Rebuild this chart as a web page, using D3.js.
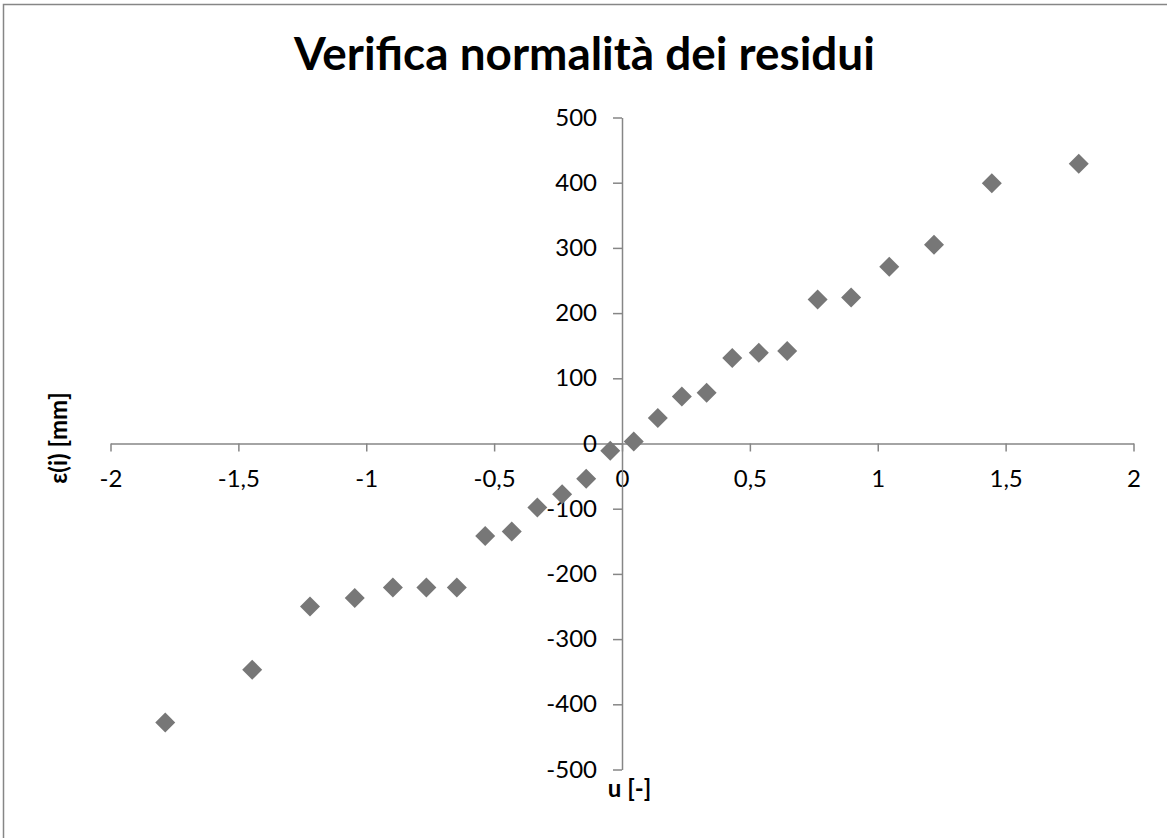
<!DOCTYPE html>
<html>
<head>
<meta charset="utf-8">
<script src="https://cdn.jsdelivr.net/npm/d3@7"></script>
<style>
  body { margin: 0; background: #fff; }
  .tick text { font-family: Lato, "Open Sans", sans-serif; font-size: 24px; fill: #000; }
  .axisTitle { font-family: Lato, "Open Sans", sans-serif; font-weight: bold; font-size: 24px; }
</style>
</head>
<body>
<div id="chart"></div>
<script>
// Normal quantiles (u) vs residuals (eps)
var uValues = [-1.786, -1.446, -1.22, -1.045, -0.896, -0.765, -0.646, -0.535, -0.431, -0.331, -0.234, -0.14, -0.046,
    0.046, 0.14, 0.234, 0.331, 0.431, 0.535, 0.646, 0.765, 0.896, 1.045, 1.22, 1.446, 1.786];
var epsValues = [-428, -347, -250, -237, -221, -221, -221, -142, -135, -98, -78, -54, -11,
    3, 39, 72, 78, 131, 139, 142, 221, 224, 271, 305, 399, 429];
var xTicks = [-2, -1.5, -1, -0.5, 0, 0.5, 1, 1.5, 2];
var yTicks = [-500, -400, -300, -200, -100, 0, 100, 200, 300, 400, 500];

var title = "Verifica normalità dei residui";
var xTitle = "u [-]";
var yTitle = "ε(i) [mm]";

var svgWidth = 1167;
var svgHeight = 838;

var svg = d3.select("#chart")
    .append("svg")
    .attr("width", svgWidth)
    .attr("height", svgHeight);

// outer chart frame
svg.append("rect")
    .attr("x", 3.5)
    .attr("y", 4.5)
    .attr("width", 1200)
    .attr("height", 900)
    .attr("fill", "none")
    .attr("stroke", "#868686")
    .attr("stroke-width", 1.5);

var pts = uValues.map((u, i) => ({ u: u, eps: epsValues[i] }));

var xScale = d3.scaleLinear().domain([-2, 2]).range([110.5, 1133.5]);
var yScale = d3.scaleLinear().domain([-500, 500]).range([769.5, 117.5]);

var fmt = d => String(d).replace(".", ",");

// x axis crosses at eps = 0
var xAxisG = svg.append("g")
    .attr("transform", `translate(0, ${yScale(0)})`)
    .call(d3.axisBottom(xScale).tickValues(xTicks).tickSize(8).tickSizeOuter(0).tickFormat(fmt));
xAxisG.selectAll(".tick text").attr("y", 43).attr("dy", 0);

// y axis crosses at u = 0
var yAxisG = svg.append("g")
    .attr("transform", `translate(${xScale(0)}, 0)`)
    .call(d3.axisLeft(yScale).tickValues(yTicks).tickSize(9).tickSizeOuter(0).tickPadding(16).tickFormat(fmt));

[xAxisG, yAxisG].forEach(g => {
    g.select(".domain").attr("stroke", "#868686").attr("stroke-width", 1.5);
    g.selectAll(".tick line").attr("stroke", "#868686").attr("stroke-width", 1.5);
});

// diamond markers
svg.append("g").selectAll("path")
    .data(pts)
    .enter()
    .append("path")
    .attr("d", d3.symbol(d3.symbolSquare, 200))
    .attr("transform", d => `translate(${xScale(d.u)}, ${yScale(d.eps)}) rotate(45)`)
    .attr("fill", "#777777");

// chart title, fitted to the width of the original
var titleText = svg.append("text")
    .attr("x", 584.5)
    .attr("y", 70)
    .attr("text-anchor", "middle")
    .attr("font-family", "Lato, 'Open Sans', sans-serif")
    .attr("font-weight", "bold")
    .attr("font-size", 40)
    .text(title);
var tw = titleText.node().getComputedTextLength();
titleText.attr("font-size", 40 * 581 / tw);

svg.append("text")
    .attr("class", "axisTitle")
    .attr("x", 629.5)
    .attr("y", 797)
    .attr("text-anchor", "middle")
    .text(xTitle);

svg.append("text")
    .attr("class", "axisTitle")
    .attr("transform", "translate(67, 438) rotate(-90)")
    .attr("text-anchor", "middle")
    .text(yTitle);
</script>
</body>
</html>
